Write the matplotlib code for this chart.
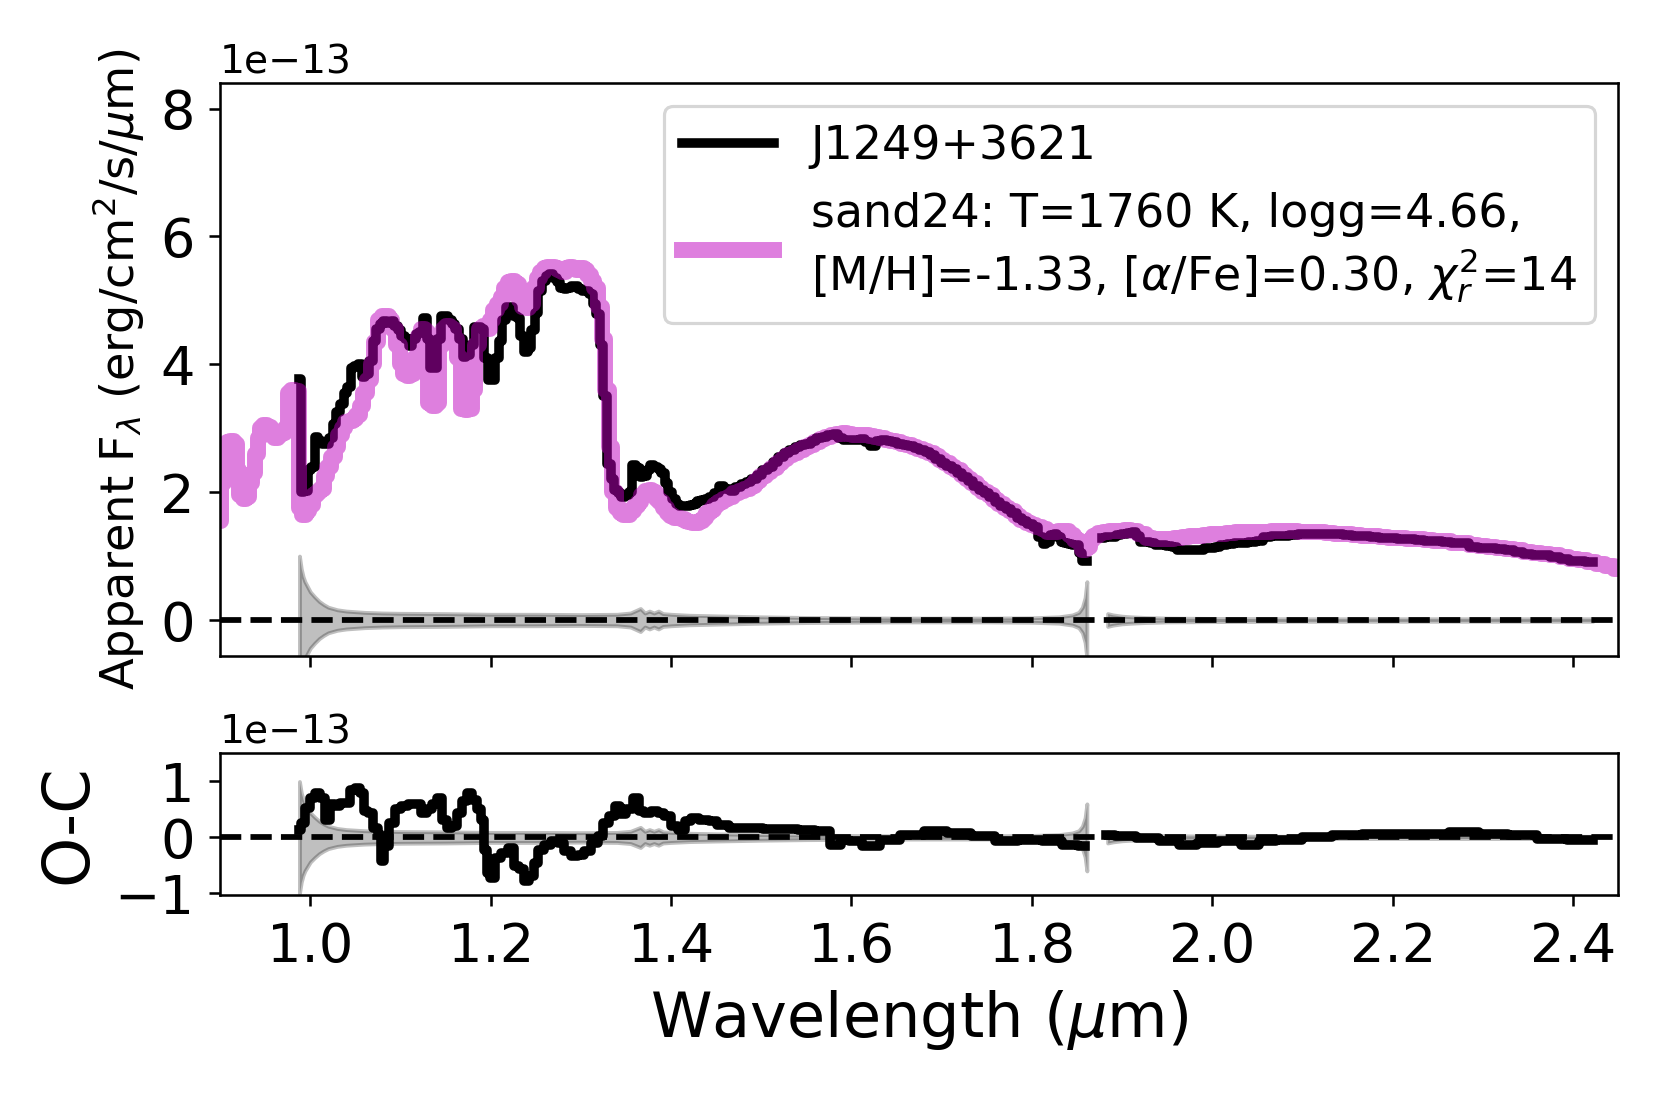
import numpy as np
import matplotlib.pyplot as plt

# fluxes are in units of 1e-13 erg/cm2/s/um
SCALE = 1e-13

# observed spectrum (two segments, gap near 1.87 um)
data_wave_1 = [0.988, 0.991, 0.995, 0.999, 1.003, 1.007, 1.011, 1.015, 1.019, 1.023,
               1.027, 1.031, 1.035, 1.039, 1.043, 1.047, 1.051, 1.055, 1.059, 1.063,
               1.067, 1.071, 1.075, 1.079, 1.083, 1.087, 1.091, 1.095, 1.099, 1.103,
               1.107, 1.111, 1.115, 1.119, 1.123, 1.127, 1.131, 1.135, 1.139, 1.143,
               1.147, 1.151, 1.155, 1.159, 1.163, 1.167, 1.171, 1.175, 1.179, 1.183,
               1.187, 1.191, 1.195, 1.199, 1.203, 1.207, 1.211, 1.215, 1.219, 1.223,
               1.227, 1.231, 1.235, 1.239, 1.243, 1.247, 1.251, 1.255, 1.259, 1.263,
               1.267, 1.271, 1.275, 1.279, 1.283, 1.287, 1.291, 1.295, 1.299, 1.303,
               1.307, 1.311, 1.315, 1.319, 1.323, 1.327, 1.331, 1.335, 1.339, 1.343,
               1.347, 1.351, 1.355, 1.359, 1.363, 1.367, 1.371, 1.375, 1.379, 1.383,
               1.387, 1.391, 1.395, 1.399, 1.403, 1.407, 1.411, 1.415, 1.419, 1.423,
               1.427, 1.431, 1.435, 1.440, 1.445, 1.450, 1.456, 1.462, 1.468, 1.474,
               1.480, 1.486, 1.492, 1.498, 1.504, 1.510, 1.516, 1.522, 1.528, 1.534,
               1.540, 1.546, 1.552, 1.558, 1.564, 1.570, 1.576, 1.582, 1.588, 1.594,
               1.600, 1.606, 1.612, 1.618, 1.624, 1.630, 1.636, 1.642, 1.648, 1.654,
               1.660, 1.666, 1.672, 1.678, 1.684, 1.690, 1.696, 1.702, 1.708, 1.714,
               1.720, 1.726, 1.732, 1.738, 1.744, 1.750, 1.756, 1.762, 1.768, 1.774,
               1.780, 1.786, 1.792, 1.798, 1.804, 1.810, 1.814, 1.818, 1.822, 1.826,
               1.830, 1.834, 1.838, 1.842, 1.846, 1.850, 1.854, 1.858, 1.861]
data_flux_1 = [3.77, 2.00, 2.02, 2.34, 2.40, 2.86, 2.80, 2.76, 2.76, 2.85,
               3.07, 3.25, 3.38, 3.55, 3.64, 3.95, 3.98, 4.00, 3.80, 3.85,
               4.05, 4.37, 4.55, 4.63, 4.68, 4.65, 4.68, 4.60, 4.53, 4.45,
               4.40, 4.29, 4.40, 4.47, 4.50, 4.73, 4.40, 3.95, 3.95, 4.40,
               4.76, 4.76, 4.70, 4.63, 4.55, 4.40, 4.11, 4.15, 4.30, 4.58,
               4.58, 4.55, 4.10, 3.75, 3.75, 4.10, 4.37, 4.70, 4.89, 4.89,
               4.75, 4.73, 4.45, 4.19, 4.25, 4.53, 4.80, 5.15, 5.30, 5.38,
               5.42, 5.35, 5.28, 5.20, 5.18, 5.20, 5.23, 5.22, 5.18, 5.15,
               5.15, 5.10, 4.95, 4.79, 4.30, 3.50, 2.44, 2.20, 2.03, 1.98,
               1.92, 1.95, 2.00, 2.42, 2.38, 2.24, 2.25, 2.35, 2.42, 2.40,
               2.36, 2.30, 2.15, 2.00, 1.90, 1.82, 1.79, 1.78, 1.78, 1.80,
               1.82, 1.86, 1.88, 1.90, 1.93, 1.98, 2.10, 2.05, 2.02, 2.08,
               2.12, 2.16, 2.20, 2.27, 2.34, 2.40, 2.47, 2.55, 2.62, 2.66,
               2.70, 2.74, 2.76, 2.80, 2.84, 2.87, 2.90, 2.91, 2.84, 2.81,
               2.82, 2.81, 2.83, 2.78, 2.72, 2.80, 2.82, 2.80, 2.78, 2.76,
               2.74, 2.72, 2.69, 2.66, 2.63, 2.58, 2.52, 2.46, 2.41, 2.36,
               2.30, 2.23, 2.17, 2.10, 2.04, 1.98, 1.92, 1.85, 1.78, 1.73,
               1.67, 1.60, 1.55, 1.50, 1.46, 1.30, 1.19, 1.22, 1.33, 1.35,
               1.30, 1.22, 1.20, 1.19, 1.18, 1.17, 1.05, 0.93, 0.93]
data_wave_2 = [1.878, 1.884, 1.890, 1.896, 1.902, 1.908, 1.914, 1.918, 1.922, 1.928,
               1.934, 1.940, 1.946, 1.952, 1.958, 1.964, 1.970, 1.976, 1.982, 1.988,
               1.994, 2.000, 2.006, 2.012, 2.020, 2.028, 2.036, 2.044, 2.052, 2.060,
               2.070, 2.080, 2.090, 2.100, 2.110, 2.120, 2.130, 2.140, 2.150, 2.160,
               2.170, 2.180, 2.190, 2.200, 2.210, 2.220, 2.230, 2.240, 2.250, 2.260,
               2.270, 2.280, 2.290, 2.300, 2.310, 2.320, 2.330, 2.340, 2.350, 2.360,
               2.370, 2.380, 2.390, 2.400, 2.410, 2.416, 2.422]
data_flux_2 = [1.29, 1.30, 1.30, 1.33, 1.35, 1.36, 1.38, 1.32, 1.22, 1.22,
               1.21, 1.17, 1.17, 1.16, 1.14, 1.10, 1.09, 1.09, 1.09, 1.10,
               1.12, 1.13, 1.14, 1.17, 1.19, 1.20, 1.21, 1.22, 1.24, 1.30,
               1.31, 1.32, 1.33, 1.34, 1.35, 1.35, 1.35, 1.34, 1.33, 1.32,
               1.31, 1.30, 1.29, 1.28, 1.27, 1.26, 1.25, 1.24, 1.23, 1.22,
               1.21, 1.20, 1.14, 1.13, 1.12, 1.11, 1.10, 1.07, 1.03, 1.02,
               1.01, 0.99, 0.96, 0.93, 0.92, 0.91, 0.90]

# best-fit model
model_wave = [0.900, 0.903, 0.906, 0.909, 0.913, 0.917, 0.920, 0.923, 0.927, 0.931,
              0.934, 0.937, 0.940, 0.943, 0.946, 0.950, 0.954, 0.958, 0.962, 0.966,
              0.970, 0.974, 0.977, 0.981, 0.985, 0.989, 0.993, 0.997, 1.001, 1.005,
              1.009, 1.013, 1.017, 1.021, 1.025, 1.029, 1.033, 1.037, 1.041, 1.045,
              1.049, 1.053, 1.057, 1.061, 1.065, 1.069, 1.073, 1.077, 1.081, 1.085,
              1.089, 1.093, 1.097, 1.101, 1.105, 1.109, 1.113, 1.117, 1.121, 1.125,
              1.129, 1.133, 1.137, 1.141, 1.145, 1.149, 1.153, 1.157, 1.161, 1.165,
              1.169, 1.173, 1.177, 1.181, 1.185, 1.189, 1.193, 1.197, 1.201, 1.205,
              1.209, 1.213, 1.217, 1.221, 1.225, 1.229, 1.233, 1.237, 1.241, 1.245,
              1.249, 1.253, 1.257, 1.261, 1.265, 1.269, 1.273, 1.277, 1.281, 1.285,
              1.289, 1.293, 1.297, 1.301, 1.305, 1.309, 1.313, 1.317, 1.321, 1.325,
              1.329, 1.333, 1.337, 1.341, 1.345, 1.349, 1.353, 1.357, 1.361, 1.365,
              1.369, 1.373, 1.377, 1.381, 1.385, 1.389, 1.393, 1.397, 1.401, 1.405,
              1.409, 1.413, 1.417, 1.421, 1.425, 1.429, 1.433, 1.437, 1.441, 1.445,
              1.450, 1.455, 1.460, 1.466, 1.472, 1.478, 1.484, 1.490, 1.496, 1.502,
              1.508, 1.514, 1.520, 1.526, 1.532, 1.538, 1.544, 1.550, 1.556, 1.562,
              1.568, 1.574, 1.580, 1.586, 1.592, 1.598, 1.604, 1.610, 1.616, 1.622,
              1.628, 1.634, 1.640, 1.646, 1.652, 1.658, 1.664, 1.670, 1.676, 1.682,
              1.688, 1.694, 1.700, 1.706, 1.712, 1.718, 1.724, 1.730, 1.736, 1.742,
              1.748, 1.754, 1.760, 1.766, 1.772, 1.778, 1.784, 1.790, 1.796, 1.802,
              1.808, 1.814, 1.820, 1.826, 1.832, 1.838, 1.844, 1.850, 1.854, 1.858,
              1.862, 1.866, 1.870, 1.876, 1.882, 1.890, 1.898, 1.906, 1.914, 1.922,
              1.930, 1.938, 1.946, 1.954, 1.962, 1.970, 1.978, 1.986, 1.994, 2.002,
              2.010, 2.020, 2.030, 2.040, 2.050, 2.060, 2.070, 2.080, 2.090, 2.100,
              2.110, 2.120, 2.130, 2.140, 2.150, 2.160, 2.170, 2.180, 2.190, 2.200,
              2.210, 2.220, 2.230, 2.240, 2.250, 2.260, 2.270, 2.280, 2.290, 2.300,
              2.310, 2.320, 2.330, 2.340, 2.350, 2.360, 2.370, 2.380, 2.390, 2.400,
              2.410, 2.420, 2.430, 2.440, 2.450]
model_flux = [1.55, 2.15, 2.55, 2.78, 2.80, 2.75, 2.35, 1.95, 1.90, 1.92,
              2.15, 2.30, 2.60, 2.85, 3.00, 3.05, 3.02, 2.90, 2.85, 2.90,
              2.92, 3.00, 3.55, 3.60, 3.58, 1.75, 1.65, 1.70, 1.80, 1.95,
              2.00, 2.05, 2.25, 2.40, 2.55, 2.70, 2.90, 3.00, 3.10, 3.12,
              3.15, 3.20, 3.35, 3.55, 3.75, 4.00, 4.35, 4.70, 4.75, 4.75,
              4.70, 4.55, 4.30, 4.00, 3.85, 3.82, 3.85, 4.10, 4.45, 4.55,
              4.50, 3.40, 3.35, 3.40, 4.30, 4.55, 4.60, 4.55, 4.40, 4.10,
              3.30, 3.28, 3.30, 3.60, 4.30, 4.55, 4.60, 4.55, 4.70, 4.85,
              4.95, 5.05, 5.20, 5.28, 5.30, 5.25, 5.00, 4.90, 4.88, 4.95,
              5.20, 5.35, 5.45, 5.50, 5.52, 5.52, 5.50, 5.48, 5.45, 5.50,
              5.52, 5.50, 5.48, 5.50, 5.48, 5.40, 5.30, 5.20, 4.90, 4.40,
              3.60, 2.70, 2.00, 1.75, 1.68, 1.65, 1.65, 1.70, 1.78, 1.85,
              1.95, 2.02, 2.03, 2.00, 1.90, 1.85, 1.75, 1.68, 1.62, 1.60,
              1.60, 1.58, 1.55, 1.53, 1.52, 1.52, 1.55, 1.60, 1.68, 1.72,
              1.80, 1.85, 1.90, 1.93, 1.98, 2.02, 2.05, 2.10, 2.18, 2.25,
              2.32, 2.38, 2.45, 2.52, 2.58, 2.62, 2.66, 2.70, 2.74, 2.78,
              2.83, 2.87, 2.90, 2.91, 2.92, 2.91, 2.90, 2.90, 2.89, 2.88,
              2.86, 2.84, 2.82, 2.80, 2.78, 2.76, 2.74, 2.71, 2.68, 2.65,
              2.62, 2.57, 2.50, 2.45, 2.40, 2.34, 2.27, 2.21, 2.14, 2.07,
              2.01, 1.95, 1.88, 1.81, 1.75, 1.70, 1.63, 1.57, 1.52, 1.49,
              1.46, 1.42, 1.38, 1.37, 1.40, 1.40, 1.33, 1.25, 1.20, 1.10,
              1.15, 1.25, 1.32, 1.36, 1.38, 1.40, 1.40, 1.41, 1.40, 1.34,
              1.29, 1.27, 1.26, 1.26, 1.28, 1.30, 1.31, 1.32, 1.33, 1.34,
              1.35, 1.36, 1.37, 1.37, 1.38, 1.38, 1.39, 1.39, 1.39, 1.38,
              1.38, 1.37, 1.36, 1.35, 1.34, 1.33, 1.32, 1.31, 1.30, 1.29,
              1.28, 1.27, 1.26, 1.25, 1.24, 1.23, 1.21, 1.20, 1.18, 1.16,
              1.14, 1.13, 1.11, 1.09, 1.07, 1.05, 1.03, 1.01, 0.99, 0.96,
              0.94, 0.91, 0.88, 0.84, 0.80]

# 1-sigma uncertainty
err_wave_1 = [0.988, 0.990, 0.992, 0.994, 0.997, 1.000, 1.005, 1.010, 1.015, 1.020,
              1.030, 1.040, 1.060, 1.080, 1.100, 1.150, 1.200, 1.250, 1.300, 1.340,
              1.355, 1.366, 1.371, 1.376, 1.381, 1.386, 1.391, 1.400, 1.420, 1.450,
              1.500, 1.550, 1.600, 1.650, 1.700, 1.750, 1.800, 1.830, 1.845, 1.852,
              1.856, 1.859, 1.861]
err_1 = [1.00, 0.80, 0.68, 0.60, 0.52, 0.44, 0.36, 0.29, 0.24, 0.20,
         0.16, 0.14, 0.12, 0.11, 0.105, 0.10, 0.09, 0.09, 0.085, 0.09,
         0.11, 0.18, 0.11, 0.14, 0.11, 0.14, 0.10, 0.09, 0.075, 0.065,
         0.05, 0.04, 0.035, 0.03, 0.03, 0.03, 0.035, 0.05, 0.08, 0.12,
         0.20, 0.35, 0.60]
err_wave_2 = [1.884, 1.890, 1.900, 1.910, 1.925, 1.950, 2.000, 2.100, 2.200, 2.300, 2.422]
err_2 = [0.10, 0.08, 0.06, 0.05, 0.04, 0.03, 0.025, 0.02, 0.02, 0.02, 0.02]

# residuals (observed - model)
res_wave_1 = [0.987, 0.992, 0.997, 1.003, 1.008, 1.014, 1.019, 1.025, 1.030, 1.036,
              1.042, 1.047, 1.053, 1.058, 1.062, 1.067, 1.073, 1.077, 1.080, 1.084,
              1.091, 1.097, 1.104, 1.112, 1.119, 1.127, 1.132, 1.138, 1.143, 1.149,
              1.154, 1.160, 1.165, 1.171, 1.176, 1.182, 1.188, 1.191, 1.195, 1.197,
              1.202, 1.208, 1.215, 1.223, 1.228, 1.234, 1.239, 1.245, 1.250, 1.256,
              1.263, 1.271, 1.278, 1.285, 1.293, 1.300, 1.308, 1.315, 1.322, 1.328,
              1.334, 1.341, 1.346, 1.354, 1.361, 1.367, 1.374, 1.382, 1.389, 1.396,
              1.404, 1.411, 1.419, 1.426, 1.437, 1.446, 1.456, 1.472, 1.492, 1.511,
              1.531, 1.550, 1.570, 1.583, 1.593, 1.602, 1.622, 1.641, 1.667, 1.693,
              1.719, 1.746, 1.772, 1.798, 1.824, 1.843, 1.859]
res_1 = [0.14, 0.26, 0.53, 0.70, 0.79, 0.70, 0.32, 0.59, 0.56, 0.62,
         0.62, 0.85, 0.88, 0.79, 0.47, 0.44, 0.17, 0.05, -0.42, -0.16,
         0.26, 0.50, 0.56, 0.59, 0.59, 0.44, 0.50, 0.59, 0.70, 0.32,
         0.17, 0.20, 0.44, 0.65, 0.79, 0.67, 0.50, 0.32, -0.22, -0.63,
         -0.72, -0.37, -0.28, -0.19, -0.51, -0.57, -0.78, -0.69, -0.45, -0.22,
         -0.13, -0.07, -0.10, -0.25, -0.34, -0.31, -0.25, -0.10, 0.02, 0.26,
         0.38, 0.56, 0.41, 0.50, 0.70, 0.47, 0.44, 0.47, 0.44, 0.38,
         0.20, 0.14, 0.29, 0.35, 0.32, 0.30, 0.23, 0.17, 0.17, 0.15,
         0.15, 0.14, 0.11, -0.13, -0.05, -0.07, -0.16, -0.04, 0.05, 0.11,
         0.08, 0.02, -0.07, -0.04, -0.07, -0.13, -0.16]
res_wave_2 = [1.882, 1.902, 1.928, 1.954, 1.973, 1.993, 2.019, 2.045, 2.058, 2.084,
              2.116, 2.149, 2.182, 2.214, 2.247, 2.279, 2.312, 2.344, 2.377, 2.409, 2.422]
res_2 = [0.05, 0.02, -0.01, -0.07, -0.13, -0.10, -0.07, -0.13, -0.07, -0.04,
         0.01, 0.05, 0.07, 0.06, 0.06, 0.10, 0.06, 0.05, -0.03, -0.04, -0.04]

model_label = ("sand24: T=1760 K, logg=4.66,\n"
               "[M/H]=-1.33, [$\\alpha$/Fe]=0.30, $\\chi^2_r$=14")

fig = plt.figure(figsize=(1661 / 230, 1107 / 230), dpi=230)
ax1 = fig.add_axes([0.1325, 0.4074, 0.8417, 0.5176])
ax2 = fig.add_axes([0.1325, 0.1915, 0.8417, 0.1283], sharex=ax1)

def sc(v):
    return np.array(v) * SCALE

# upper panel: spectrum + model
ax1.plot(data_wave_1, sc(data_flux_1), color="k", lw=3, drawstyle="steps-mid",
         label="J1249+3621")
ax1.plot(data_wave_2, sc(data_flux_2), color="k", lw=3, drawstyle="steps-mid")
ax1.plot(model_wave, sc(model_flux), color="m", alpha=0.5, lw=5,
         drawstyle="steps-mid", label=model_label)

for ax in (ax1, ax2):
    ax.fill_between(err_wave_1, -sc(err_1), sc(err_1), color="k", alpha=0.25, lw=1.2)
    ax.fill_between(err_wave_2, -sc(err_2), sc(err_2), color="k", alpha=0.25, lw=1.2)
    ax.axhline(0, color="k", ls="--", lw=1.8)
    ax.tick_params(labelsize=17, pad=4.5)
    ax.yaxis.get_offset_text().set_fontsize(12.3)

# lower panel: residuals
ax2.plot(res_wave_1, sc(res_1), color="k", lw=3, drawstyle="steps-mid")
ax2.plot(res_wave_2, sc(res_2), color="k", lw=3, drawstyle="steps-mid")

ax1.set_xlim(0.9, 2.45)
ax1.set_ylim(-0.563e-13, 8.4e-13)
ax1.set_yticks(sc([0, 2, 4, 6, 8]))
ax2.set_ylim(-1.03e-13, 1.51e-13)
ax2.set_yticks(sc([-1, 0, 1]))
ax2.set_xticks([1.0, 1.2, 1.4, 1.6, 1.8, 2.0, 2.2, 2.4])
ax1.tick_params(labelbottom=False)

ax1.set_ylabel(r"Apparent F$_\lambda$ (erg/cm$^2$/s/$\mu$m)", fontsize=14.5, labelpad=4.5)
ax2.set_ylabel("O-C", fontsize=20, labelpad=4.7)
ax2.set_xlabel(r"Wavelength ($\mu$m)", fontsize=19.5, labelpad=4.8)

ax1.legend(loc="upper right", fontsize=14.4)

plt.savefig("out.png", dpi=230)
